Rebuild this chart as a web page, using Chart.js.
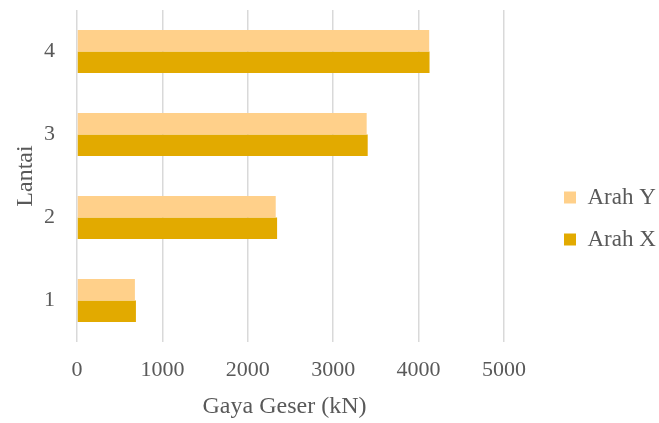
<!DOCTYPE html>
<html lang="id">
<head>
  <meta charset="UTF-8" />
  <title>Gaya Geser per Lantai</title>
  <script src="https://cdn.jsdelivr.net/npm/chart.js"></script>
  <style>
    html, body {
      margin: 0;
      padding: 0;
      background: #ffffff;
      overflow: hidden;
    }

    .wrap {
      width: 659px;
      height: 423px;
    }
  </style>
</head>
<body>
  <div class="wrap">
    <canvas id="shearChart"></canvas>
  </div>

  <script>
    const floors = ['1', '2', '3', '4'];
    const arahY = [678, 2327, 3392, 4124];
    const arahX = [690, 2343, 3404, 4128];
    const xTicks = [0, 1000, 2000, 3000, 4000, 5000];

    const textColor = '#595959';
    const fontFamily = '"Liberation Serif", "Times New Roman", serif';

    // legend sits far right, the plot has to stop at 5000
    const legendSpace = {
      id: 'legendSpace',
      beforeInit(chart) {
        const legend = chart.legend;
        const fit = legend.fit;
        legend.fit = function () {
          fit.call(this);
          this.width = 155;
        };
      },
      afterLayout(chart) {
        chart.legend.left += 41;
        chart.legend.top += 3;
        chart.legend.bottom += 3;

        // x title sits a little left of the plot centre
        const xs = chart.scales.x;
        if (!xs._titleShifted) {
          const drawTitle = xs.drawTitle;
          xs.drawTitle = function () {
            this.ctx.save();
            this.ctx.translate(-6, 0);
            drawTitle.call(this);
            this.ctx.restore();
          };
          xs._titleShifted = true;
        }
      }
    };

    function drawChart() {
      const ctx = document.getElementById('shearChart').getContext('2d');
      new Chart(ctx, {
        type: 'bar',
        data: {
          labels: floors,
          datasets: [
            {
              label: 'Arah Y',
              data: arahY,
              backgroundColor: '#FFD08A'
            },
            {
              label: 'Arah X',
              data: arahX,
              backgroundColor: '#E2AA00'
            }
          ]
        },
        options: {
          indexAxis: 'y',
          responsive: true,
          maintainAspectRatio: false,
          animation: false,
          datasets: {
            bar: {
              barPercentage: 1,
              categoryPercentage: 0.52
            }
          },
          layout: {
            padding: { top: 10, left: 0, right: 0, bottom: 2 }
          },
          scales: {
            x: {
              min: 0,
              max: 5000,
              afterBuildTicks(scale) {
                scale.ticks = xTicks.map(v => ({ value: v }));
              },
              afterFit(scale) {
                scale.height = 79;
              },
              grid: {
                color: '#D9D9D9',
                lineWidth: 1.5,
                drawTicks: false
              },
              border: { display: false },
              ticks: {
                color: textColor,
                padding: 15,
                callback: v => String(v),
                font: { family: fontFamily, size: 22 }
              },
              title: {
                display: true,
                text: 'Gaya Geser (kN)',
                color: textColor,
                padding: { top: 10, bottom: 0 },
                font: { family: fontFamily, size: 24 }
              }
            },
            y: {
              reverse: true,
              grid: { display: false, drawTicks: false },
              border: { display: false },
              afterFit(scale) {
                scale.width = 77;
                scale.paddingTop = 0;
                scale.paddingBottom = 0;
              },
              ticks: {
                color: textColor,
                padding: 22,
                font: { family: fontFamily, size: 22 }
              },
              title: {
                display: true,
                text: 'Lantai',
                color: textColor,
                padding: { top: 11, bottom: 0 },
                font: { family: fontFamily, size: 24 }
              }
            }
          },
          plugins: {
            legend: {
              position: 'right',
              labels: {
                color: textColor,
                boxWidth: 12,
                boxHeight: 12,
                padding: 19,
                font: { family: fontFamily, size: 23 }
              }
            },
            tooltip: { enabled: false }
          }
        },
        plugins: [legendSpace]
      });
    }

    window.onload = drawChart;
  </script>
</body>
</html>
